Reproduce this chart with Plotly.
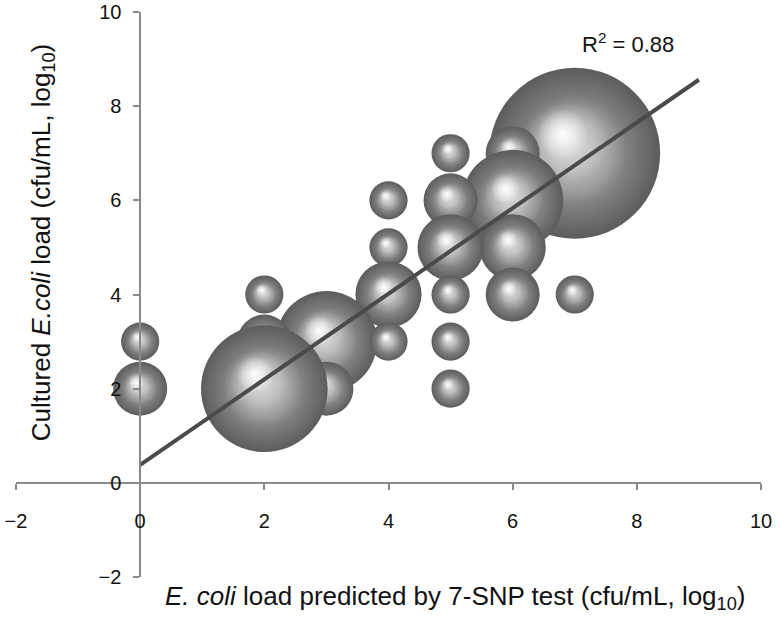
import plotly.graph_objects as go

# Data: predicted (x), cultured (y), number of samples (bubble size)
pred_x = [7, 6, 5, 6, 5, 4, 6, 5, 4, 7, 6, 5, 4, 2, 3, 4, 5, 2, 0, 3, 5, 2, 0]
cult_y = [7, 7, 7, 6, 6, 6, 5, 5, 5, 4, 4, 4, 4, 4, 3, 3, 3, 3, 3, 2, 2, 2, 2]
counts = [20, 2, 1, 7, 2, 1, 3, 3, 1, 1, 2, 1, 3, 1, 7, 1, 1, 2, 1, 2, 1, 11, 2]

fit_intercept = 0.38
fit_slope = 0.909
fit_x = [0, 9]
r2_text = "R<sup>2</sup> = 0.88"

x_ticks = [-2, 0, 2, 4, 6, 8, 10]
y_ticks = [-2, 0, 2, 4, 6, 8, 10]

W, H = 780, 617
ML, MR, MT, MB = 16, 19, 12, 40
XR = [-2, 10]
YR = [-2, 10]
px_per_x = (W - ML - MR) / (XR[1] - XR[0])
px_per_y = (H - MT - MB) / (YR[1] - YR[0])

SIZEREF = 1 / 729.0  # diameter = sqrt(count / sizeref)

# sphere shading layers: (relative size, centre colour rgb)
SHADE = [(0.9, (195, 195, 195)), (0.66, (215, 215, 215)), (0.42, (255, 255, 255))]
HX, HY = -0.17, 0.27   # direction of the light (fraction of diameter, up-left)

fig = go.Figure()


def layer(x, y, size, edge, centre, **kw):
    fig.add_trace(go.Scatter(
        x=[x], y=[y], mode="markers", hoverinfo="skip", showlegend=False,
        marker=dict(size=size, opacity=1, color=edge, line=dict(width=0),
                    gradient=dict(type="radial", color=centre), **kw)))


for x, y, n in zip(pred_x, cult_y, counts):
    d = (n / SIZEREF) ** 0.5
    # sphere body (gradient.color is the centre colour for radial gradients)
    layer(x, y, [n], "#5c5c5c", "#bababa", sizemode="area", sizeref=SIZEREF)
    for t, (r, g, b) in SHADE:
        layer(x + HX * (1 - t) * d / px_per_x, y + HY * (1 - t) * d / px_per_y, t * d,
              f"rgba({r},{g},{b},0)", f"rgba({r},{g},{b},1)")

fig.add_trace(go.Scatter(
    x=fit_x, y=[fit_intercept + fit_slope * v for v in fit_x],
    mode="lines", line=dict(color="#4a4a4a", width=4),
    hoverinfo="skip", showlegend=False))

FONT = "Arial, Liberation Sans, sans-serif"
axis_font = dict(family=FONT, size=20, color="#111")
common = dict(showgrid=False, zeroline=False, showline=True, linecolor="#8a8a8a", linewidth=1.5,
              ticks="outside", ticklen=6, tickcolor="#8a8a8a", tickwidth=1.5,
              anchor="free", automargin=False, tickfont=axis_font, ticklabeloverflow="allow")
fig.update_layout(
    width=W, height=H,
    margin=dict(l=ML, r=MR, t=MT, b=MB, autoexpand=False),
    paper_bgcolor="white", plot_bgcolor="white",
    xaxis=dict(range=XR, tickvals=x_ticks, ticktext=[str(v).replace("-", "\u2212") for v in x_ticks],
               position=(0 - YR[0]) / (YR[1] - YR[0]), ticklabelstandoff=14, **common),
    yaxis=dict(range=YR, tickvals=y_ticks, ticktext=[str(v).replace("-", "\u2212") for v in y_ticks],
               position=(0 - XR[0]) / (XR[1] - XR[0]), ticklabelstandoff=8, **common),
    font=dict(family=FONT, color="#111"),
)

title_font = dict(family=FONT, size=26, color="#111")
fig.add_annotation(
    text="<i>E. coli</i> load predicted by 7-SNP test (cfu/mL, log<sub>10</sub>)",
    xref="paper", yref="paper", x=0.589, y=-0.037, showarrow=False,
    font=title_font, xanchor="center", yanchor="middle")
fig.add_annotation(
    text="Cultured <i>E.coli</i> load (cfu/mL, log<sub>10</sub>)",
    xref="paper", yref="paper", x=0.035, y=0.591, showarrow=False, textangle=-90,
    font=title_font, xanchor="center", yanchor="middle")
fig.add_annotation(
    text=r2_text, x=7.86, y=9.34, showarrow=False,
    font=dict(family=FONT, size=22, color="#111"))

# let the figure sit flush with the window edges (no default page margin)
fig.write_html("out.html", config={"displayModeBar": False},
               post_script="document.body.style.margin='0';")
